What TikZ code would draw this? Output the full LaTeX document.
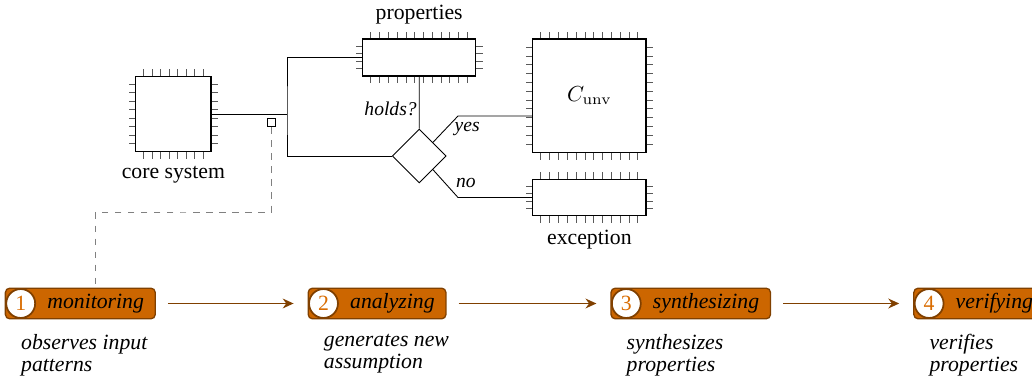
\documentclass[tikz,border=0pt]{standalone}
\usepackage{amsmath}
\usepackage{xcolor}
\usepackage[no-math]{fontspec}
\setmainfont{Liberation Serif}
\usetikzlibrary{positioning,calc,fit,backgrounds,shapes.geometric,arrows.meta}

\newcommand{\pxu}{0.46pt}
\newcommand{\pinlen}{3pt}

% pins round a chip: node, pins per horizontal side, pins per vertical side
\newcommand{\chippins}[3]{%
	\foreach \i [evaluate=\i as \f using \i/(#2+1)] in {1,...,#2} {
		\draw[chippin] ($(#1.north west)!\f!(#1.north east)$) -- ++(0,\pinlen);
		\draw[chippin] ($(#1.south west)!\f!(#1.south east)$) -- ++(0,-\pinlen);
	}
	\foreach \i [evaluate=\i as \f using \i/(#3+1)] in {1,...,#3} {
		\draw[chippin] ($(#1.north west)!\f!(#1.south west)$) -- ++(-\pinlen,0);
		\draw[chippin] ($(#1.north east)!\f!(#1.south east)$) -- ++(\pinlen,0);
	}
}

\tikzset{
	chip/.style={draw, fill=white, line width=0.6pt, inner sep=0pt},
	chippin/.style={draw=black!65, line width=0.45pt},
	chiplabel/.style={inner sep=3.33pt},
	decision/.style={diamond, draw, aspect=1, inner sep=0pt, minimum width=24.8pt, minimum height=24.8pt},
	probe/.style={draw, fill=white, inner sep=0pt, minimum size=3.7pt},
	monline/.style={draw=gray, dashed},
	elabel/.style={font=\small\itshape, inner sep=1pt},
	numcirc/.style={circle, draw=orange!50!black, fill=white, line width=0.8pt, text=orange!85!black, inner sep=0pt, minimum size=13.3pt},
	stagetext/.style={font=\itshape, inner xsep=5pt, inner ysep=2pt},
	stagebox/.style={draw=orange!50!black, fill=orange!80!black, line width=0.6pt, rounded corners=2pt, inner sep=0pt},
	flow/.style={draw=orange!50!black, line width=0.8pt, -{Stealth[length=5pt,width=4.5pt]}, shorten <=5.5pt, shorten >=6.7pt},
	desc/.style={font={\fontsize{10pt}{10.2pt}\selectfont\itshape}, align=left, anchor=north west, inner sep=0pt}
}

\begin{document}
\begin{tikzpicture}[x=\pxu, y=-\pxu]
	\useasboundingbox (0,0) rectangle (1032,378);

	% chips
	\node[chip, minimum width=75.3*\pxu, minimum height=75.3*\pxu] (core) at (173.4,114.2) {};
	\node[chip, minimum width=113*\pxu, minimum height=37*\pxu] (props) at (419.2,57.5) {};
	\node[chip, minimum width=113.3*\pxu, minimum height=113.3*\pxu] (cunv) at (589.4,95.7) {$C_{\mathrm{unv}}$};
	\node[chip, minimum width=113.3*\pxu, minimum height=36.4*\pxu] (exc) at (589.4,197.5) {};
	\chippins{core}{8}{8}
	\chippins{props}{12}{4}
	\chippins{cunv}{12}{12}
	\chippins{exc}{12}{4}
	\node[chiplabel, below=3pt of core] (corelbl) {core system};
	\node[chiplabel, above=3pt of props] (propslbl) {properties};
	\node[chiplabel, below=3pt of exc] (exclbl) {exception};

	\node[decision] (dec) at (419.3,156) {};
	\node[probe] (probe) at (271.3,122.8) {};

	\coordinate (split) at (287,114.2);
	\coordinate (yesbend) at (458,116);
	\coordinate (nobend) at (458,197.5);

	\draw (core.east) -- (split);
	\draw (props.west) -| (split) |- (dec.west);
	\draw (props.south) -- node[elabel, left, pos=0.62] (holdslbl) {holds?} (dec.north);
	\draw (dec.north east) -- node[elabel, right=3pt, pos=0.5] (yeslbl) {yes} (yesbend) -- (yesbend -| cunv.west);
	\draw (dec.south east) -- node[elabel, right=4pt, pos=0.47] (nolbl) {no} (nobend) -- (exc.west);

	% stages
	\foreach \i/\nm/\txt in {1/mon/monitoring, 2/ana/analyzing, 3/syn/synthesizing, 4/ver/verifying} {
		\node[numcirc] (n\i) at ({20.7+302.8*(\i-1)},303.5) {\i};
		\node[stagetext, right=0pt of n\i] (\nm) {\txt};
		\begin{scope}[on background layer]
			\node[stagebox, fit=(n\i)(\nm)] (s\i) {};
		\end{scope}
	}
	\draw[flow] (s1) -- (n2);
	\draw[flow] (s2) -- (n3);
	\draw[flow] (s3) -- (n4);

	\node[desc] (d1) at ([yshift=-7pt]n1.south) {observes input\\patterns};
	\node[desc] (d2) at ([yshift=-7pt]n2.south) {generates new\\assumption};
	\node[desc] (d3) at ([yshift=-7pt]n3.south) {synthesizes\\properties};
	\node[desc] (d4) at ([yshift=-7pt]n4.south) {verifies\\properties};

	\coordinate (tap) at (180,212);
	\draw[monline] (probe.south) |- (tap) -| (mon.north |- s1.north);
\end{tikzpicture}
\end{document}
